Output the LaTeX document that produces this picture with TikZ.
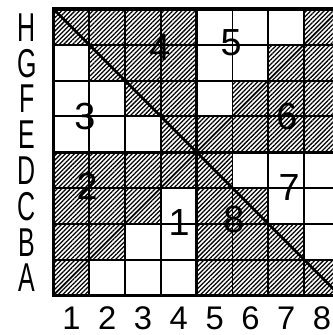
\documentclass[tikz,border=0pt]{standalone}
\usepackage{fontspec}
\setmainfont{Liberation Sans}
\usepackage{graphicx}
\usetikzlibrary{patterns.meta}
\newcommand{\narrowtxt}[1]{\scalebox{0.62}[1]{#1}}

\begin{document}
\begin{tikzpicture}[
    hatch/.style={pattern={Lines[angle=45, distance=2.5pt, line width=1pt]}, pattern color=black},
    gridline/.style={line width=1.5pt, draw=black},
    axisline/.style={line width=2.3pt, draw=black},
    frame/.style={line width=2.9pt, draw=black},
    diag/.style={line width=2pt, draw=black},
    rowlab/.style={font=\fontsize{32}{32}\selectfont, inner sep=0pt, text height=23pt, text depth=0pt},
    collab/.style={font=\fontsize{26}{26}\selectfont, inner sep=0pt, text height=19pt, text depth=0pt},
    region/.style={font=\fontsize{30}{30}\selectfont, inner sep=0pt, text height=21pt, text depth=0pt}
]

\useasboundingbox (-1.494,-1.106) rectangle (7.807,8.251);
\clip (-1.494,-1.106) rectangle (7.807,8.251);

% ═══════════════════════════════════════════════════════════════
% Hatched squares (column/row, row 1 = A)
% ═══════════════════════════════════════════════════════════════
\foreach \c/\r in {1/8,2/8,3/8,4/8,8/8, 2/7,3/7,4/7,7/7,8/7,
                   3/6,4/6,6/6,7/6,8/6, 4/5,5/5,6/5,7/5,8/5,
                   1/4,2/4,3/4,4/4,5/4, 1/3,2/3,3/3,5/3,6/3,
                   1/2,2/2,5/2,6/2,7/2, 1/1,5/1,6/1,7/1,8/1}
    \fill[hatch] (\c-1,\r-1) rectangle (\c,\r);

% ═══════════════════════════════════════════════════════════════
% Board lines
% ═══════════════════════════════════════════════════════════════
\foreach \i in {1,2,3,5,6,7} {
    \draw[gridline] (\i,0) -- (\i,8);
    \draw[gridline] (0,\i) -- (8,\i);
}
\draw[axisline] (4,0) -- (4,8);
\draw[axisline] (0,4) -- (8,4);

% Diagonals
\draw[diag] (0,8) -- (8,0);
\draw[diag, line width=1.1pt] (0,0) -- (8,8);

\draw[frame] (0,0) rectangle (8,8);

% ═══════════════════════════════════════════════════════════════
% Row and column labels
% ═══════════════════════════════════════════════════════════════
\foreach \l [count=\r] in {A,B,C,D,E,F,G,H}
    \node[rowlab] (row\l) at (-0.74,\r-0.5) {\narrowtxt{\l}};
\foreach \c in {1,...,8}
    \node[collab] (col\c) at (\c-0.5,-0.63) {\c};

% ═══════════════════════════════════════════════════════════════
% Region numbers
% ═══════════════════════════════════════════════════════════════
\node[region] (num1) at (3.51,2.05) {1};
\node[region] (num2) at (0.94,3.06) {2};
\node[region] (num3) at (0.88,5.01) {3};
\node[region] (num4) at (2.97,6.94) {4};
\node[region] (num5) at (4.96,7.08) {5};
\node[region] (num6) at (6.52,5.01) {6};
\node[region] (num7) at (6.58,3.03) {7};
\node[region] (num8) at (5.04,2.13) {8};

\end{tikzpicture}
\end{document}
